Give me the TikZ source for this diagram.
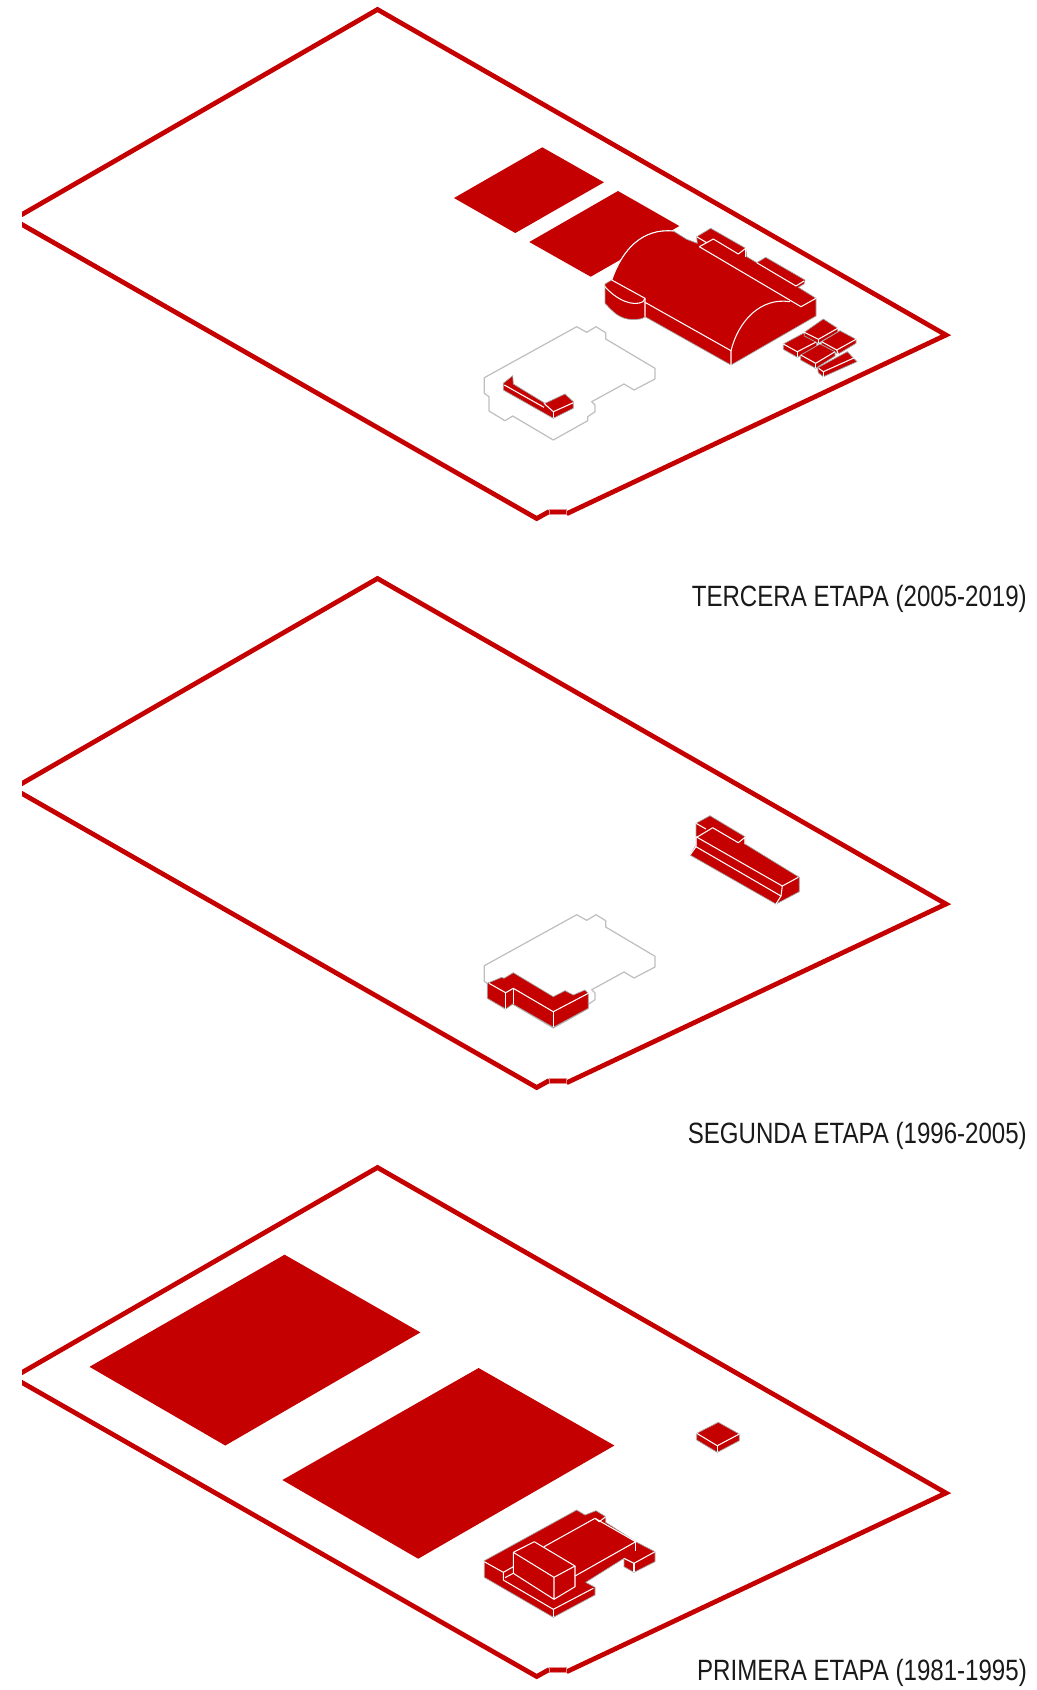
\documentclass[tikz,border=0pt]{standalone}
\usepackage{fontspec}
\setmainfont[FakeStretch=0.82]{Liberation Sans}
\usepackage{tikz}
\definecolor{etapared}{RGB}{197,0,0}
\tikzset{
  x=0.01cm, y=-0.01cm,
  siteline/.style={line width=1.35pt, draw=etapared, line join=miter, line cap=butt},
  massing/.style={fill=etapared, draw=black!35, line width=0.2pt, line join=round},
  slab/.style={fill=etapared, draw=none},
  ridge/.style={draw=white, line width=0.3pt, line join=round},
  footprint/.style={draw=black!25, line width=0.35pt, line join=round},
  etapalabel/.style={font=\fontsize{8.35}{10}\selectfont, anchor=base east, inner sep=0pt, text=black!90},
}
\newcommand{\sitelimit}{
\begin{scope}
\clip (22,0) rectangle (1037,530);
\draw[siteline] (19,216.2) -- (377.5,9.5) -- (946,335) -- (566.7,513.7);
\draw[siteline] (549.3,511.5) -- (536.7,518.5) -- (19,222.8);
\end{scope}
\draw[slab, draw=etapared!45, line width=0.25pt] (549.3,509.3) rectangle (566.7,514.7);
}
\newcommand{\planlimit}{
\draw[footprint] (484.3,377.7) -- (576.7,326.7) -- (586.7,332.3) -- (596,326.7) -- (605.7,332.7) -- (605.7,339) -- (655,368.3) -- (655,379) -- (634,390) -- (624,384) -- (591.7,401.7) -- (595,405) -- (595,411.7) -- (587.7,416.7) -- (587.7,420.7) -- (553.3,440) -- (512.7,416) -- (505,420.7) -- (489,411) -- (489,396.7) -- (484.3,393.3) -- cycle;
}
\begin{document}
\begin{tikzpicture}
\useasboundingbox (0,0) rectangle (1037,1690);
% tercera etapa
\sitelimit
\planlimit
\draw[slab] (542.3,147.3) -- (604,182.3) -- (515.3,233) -- (454,198) -- cycle;
\draw[slab] (618,191) -- (679.3,226) -- (590.7,276.7) -- (529.3,242) -- cycle;
\draw[massing] (731,365) -- (816,316) -- (816,298.3) -- (798.3,287.3) -- (804,284) -- (805,280) -- (765.7,257.3) -- (756.7,262.7) -- (746.7,256.7) -- (745.7,248.3) -- (710.7,228.3) -- (696.7,236.7) -- (697.3,243.3) -- (686.7,239.3) -- (673.3,231) .. controls (642,228) and (622,250) .. (611.7,280) -- (605,284) -- (605,303.3) .. controls (614,313) and (620,319) .. (632,319.5) .. controls (638,319.5) and (643,319) .. (645,316.7) -- cycle;
\draw[ridge] (611.7,280) .. controls (622,250) and (642,228) .. (673.3,231);
\draw[ridge] (611.7,280) -- (645,298.3) -- (645,316.7);
\draw[ridge] (605,286.7) .. controls (616.7,300) and (633,307) .. (643,301.7) -- (645,298.3);
\draw[ridge] (645,302.3) -- (731,350.7) -- (731,365);
\draw[ridge] (731,350.7) .. controls (738,322) and (760,297) .. (790,301.7);
\draw[ridge] (699.3,246.7) -- (801,306.7) -- (816,298.3);
\draw[ridge] (699.3,246.7) -- (713.3,239) -- (738.3,254) -- (745.7,248.3);
\draw[ridge] (696.7,236.7) -- (706.7,242.7);
\draw[ridge] (745.7,248.3) -- (745.7,256.7);
\draw[ridge] (756.7,262.7) -- (796,286) -- (804,281);
% small blocks
\draw[massing] (783.3,344) -- (803.3,333.3) -- (816.7,341.7) -- (816.7,347) -- (797.3,357.3) -- (783.3,349.3) -- cycle;
\draw[ridge] (783.3,344) -- (797.3,351.7) -- (816.7,341.7);
\draw[ridge] (797.3,351.7) -- (797.3,357.3);
\draw[massing] (804.3,332.3) -- (823.3,319) -- (837.7,328.3) -- (837.7,332) -- (818.3,343.3) -- (804.3,336) -- cycle;
\draw[ridge] (804.3,332.3) -- (818.3,339.3) -- (837.7,328.3);
\draw[ridge] (818.3,339.3) -- (818.3,343.3);
\draw[massing] (821.7,341.7) -- (840,330.7) -- (856,339.3) -- (856,343.3) -- (838.3,354) -- (821.7,345) -- cycle;
\draw[ridge] (821.7,341.7) -- (836.7,350) -- (856,339.3);
\draw[ridge] (836.7,350) -- (838.3,354);
\draw[massing] (800.7,355) -- (820,344) -- (835,351.7) -- (835,356) -- (815.7,368.3) -- (800.7,360) -- cycle;
\draw[ridge] (800.7,355) -- (815.7,363.3) -- (835,351.7);
\draw[ridge] (815.7,363.3) -- (815.7,368.3);
\draw[massing] (817.7,367.7) -- (847.3,351.7) -- (857,361.7) -- (823.3,376.7) -- (818.3,372.7) -- cycle;
\draw[ridge] (818.7,368.3) -- (823.3,371.7) -- (856.7,356.7);
\draw[ridge] (823.3,371.7) -- (823.3,376.7);
% patio block
\draw[massing] (503.3,383.3) -- (512.7,375.7) -- (513.3,384) -- (545,403.3) -- (565,394) -- (573.3,401.7) -- (573.3,408.3) -- (553.3,418.3) -- (503.3,390) -- cycle;
\draw[ridge] (504.3,385) -- (544,407.3);
\draw[ridge] (544,403.3) -- (553.3,411.7) -- (573.3,402.7);
\draw[ridge] (553.3,411.7) -- (553.3,418.3);
\node[etapalabel] (tercera) at (1027.5,606) {TERCERA ETAPA (2005-2019)};
% segunda etapa
\begin{scope}[shift={(0,569)}]
\sitelimit
\end{scope}
\begin{scope}[shift={(0,588)}]
\planlimit
\end{scope}
\draw[massing] (696,823.3) -- (710,815.7) -- (745,836.7) -- (745,844) -- (799.3,877.3) -- (799.3,891.7) -- (776,904) -- (690,855) -- (696,845) -- (696,831.7) -- cycle;
\draw[ridge] (696.7,837.3) -- (712.7,827.7) -- (738.3,842.7) -- (745,837.3) -- (745,844);
\draw[ridge] (696,823.3) -- (706,829);
\draw[ridge] (696,836.7) -- (782.3,886) -- (798.3,877.3);
\draw[ridge] (782.3,886) -- (781,896);
\draw[ridge] (696,836.7) -- (696,846.7) -- (781,896) -- (776,904);
\draw[ridge] (696,846.7) -- (690,855);
\draw[massing] (487.3,983.3) -- (501.7,977.3) -- (504,978.3) -- (513.3,972.7) -- (553.3,996.7) -- (565,990.7) -- (573.3,995) -- (585,990) -- (588.3,993.3) -- (588.3,1008.3) -- (553.3,1027.3) -- (512.7,1004) -- (505.7,1009) -- (487.3,998.3) -- cycle;
\draw[ridge] (489,983.3) -- (505.7,992.7) -- (513.3,988.3) -- (553.3,1011.7) -- (588.3,993.3);
\draw[ridge] (505.7,992.7) -- (505.7,1009);
\draw[ridge] (513.3,988.3) -- (513.3,1004);
\draw[ridge] (553.3,1011.7) -- (553.3,1027.3);
\node[etapalabel] (segunda) at (1027.5,1143) {SEGUNDA ETAPA (1996-2005)};
% primera etapa
\begin{scope}[shift={(0,1158)}]
\sitelimit
\end{scope}
\draw[slab] (284.6,1254.7) -- (420.4,1332.4) -- (225.3,1445.5) -- (89.5,1366.8) -- cycle;
\draw[slab] (478.6,1368) -- (614.4,1445.5) -- (418.2,1558.7) -- (282.4,1480) -- cycle;
\draw[massing] (696.7,1433.3) -- (718.3,1422.3) -- (739.3,1434) -- (739.3,1440.7) -- (717.3,1452.3) -- (696.7,1440) -- cycle;
\draw[ridge] (696.7,1433.3) -- (717.3,1445.7) -- (739.3,1434);
\draw[ridge] (717.3,1445.7) -- (717.3,1452.3);
\draw[massing] (484.3,1560.7) -- (576.7,1510) -- (585,1515) -- (596,1510.7) -- (605.7,1516.7) -- (605.7,1522.3) -- (635.7,1541.7) -- (655,1551.7) -- (655,1561.7) -- (634,1572.3) -- (624,1566.7) -- (624,1558.3) -- (585.7,1582.3) -- (595,1587.3) -- (595,1595) -- (553.3,1617.3) -- (484.3,1577.3) -- cycle;
\draw[ridge] (484.3,1561.7) -- (503.3,1572.3) -- (503.3,1580) -- (553.3,1609.3) -- (593.3,1588.3);
\draw[ridge] (553.3,1609.3) -- (553.3,1617.3);
\draw[ridge] (503.3,1572.3) -- (513.3,1566.7);
\draw[ridge] (505,1577.7) -- (513.3,1573.3);
\draw[ridge] (513.3,1552.3) -- (534.3,1541.7) -- (575,1566) -- (554,1577.3) -- cycle;
\draw[ridge] (513.3,1552.3) -- (513.3,1573.3) -- (554,1599.3) -- (554,1577.3);
\draw[ridge] (575,1566) -- (575,1586.7) -- (554,1599.3);
\draw[ridge] (544,1546.7) -- (595,1518.3) -- (635.7,1541.7) -- (575,1576);
\draw[ridge] (635.7,1541.7) -- (635.7,1551);
\draw[ridge] (595,1518.3) -- (599.3,1521.7) -- (605.7,1516.7);
\draw[ridge] (624,1558.3) -- (634,1563.3) -- (655,1551.7);
\draw[ridge] (634,1563.3) -- (634,1572.3);
\node[etapalabel] (primera) at (1027.5,1680) {PRIMERA ETAPA (1981-1995)};
\end{tikzpicture}
\end{document}
